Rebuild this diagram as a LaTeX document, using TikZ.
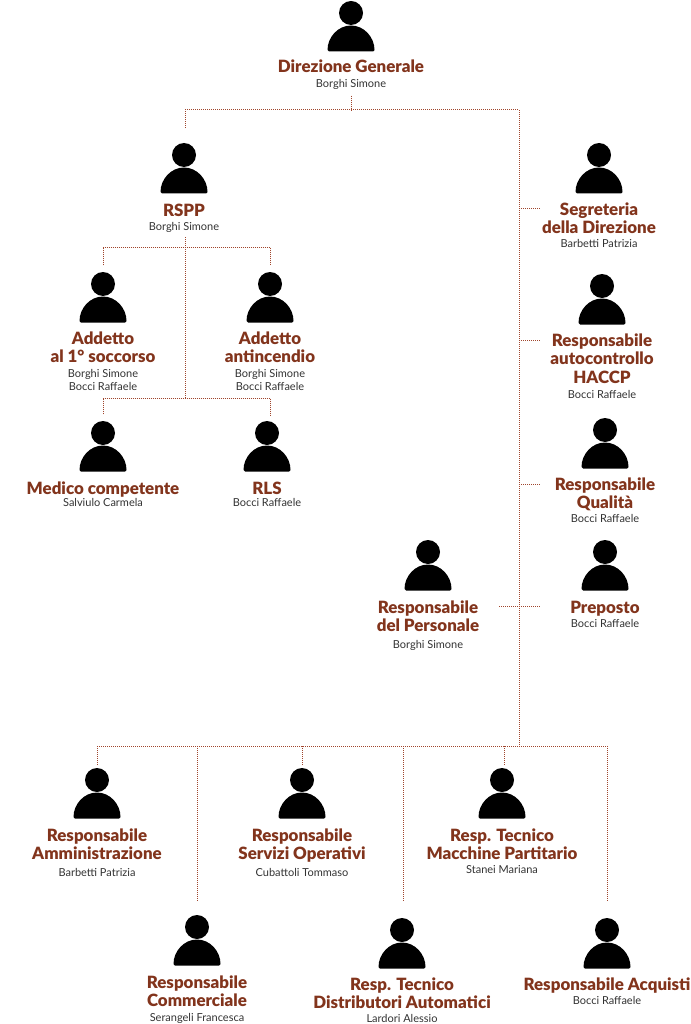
\documentclass[tikz,border=0pt]{standalone}
\usepackage{fontspec}
\setmainfont{Lato}
\newfontfamily\ruolofont{Lato Black}
\usepackage{xcolor}
\usetikzlibrary{positioning,calc}
\definecolor{ruolo}{RGB}{130,52,28}
\definecolor{filo}{RGB}{160,70,45}
\definecolor{nome}{RGB}{50,50,50}
\tikzset{
    persona/.style={minimum width=47pt, minimum height=51pt, inner sep=0pt, path picture={
        \fill[black] ($(path picture bounding box.north)+(0,-12.5pt)$) circle (12pt);
        \fill[black, rounded corners=1.5pt] (path picture bounding box.south west) arc[start angle=180, end angle=0, x radius=23.5pt, y radius=26pt] -- cycle;
    }},
    ruolo/.style={inner sep=0pt, align=center, text=ruolo, font=\fontsize{16.9}{18.7}\selectfont\ruolofont, execute at begin node=\strut, execute at end node=\strut},
    nome/.style={inner sep=0pt, align=center, text=nome, font=\fontsize{11}{13}\selectfont, execute at begin node=\strut, execute at end node=\strut},
    filo/.style={draw=filo, line width=1pt, dash pattern=on 1pt off 1pt}
}
\begin{document}
\begin{tikzpicture}[x=1pt, y=-1pt]
    \useasboundingbox (0,0) rectangle (690,1024);

    \node[persona] (dir) at (351,26) {};
    \node[ruolo, below=7.5pt of dir] (dirR) {Direzione Generale};
    \node[nome, below=0pt of dirR] (dirN) {Borghi Simone};

    \node[persona] (rspp) at (184,168) {};
    \node[ruolo, below=9.5pt of rspp] (rsppR) {RSPP};
    \node[nome, below=-1.5pt of rsppR] (rsppN) {Borghi Simone};

    \node[persona] (segr) at (599,168) {};
    \node[ruolo, below=8.5pt of segr] (segrR) {Segreteria\\della Direzione};
    \node[nome, below=-1pt of segrR] (segrN) {Barbetti Patrizia};

    \node[persona] (socc) at (103,297) {};
    \node[ruolo, below=8.5pt of socc] (soccR) {Addetto\\al 1° soccorso};
    \node[nome, below=1pt of soccR] (soccN) {Borghi Simone\\Bocci Raffaele};

    \node[persona] (anti) at (270,297) {};
    \node[ruolo, below=8.5pt of anti] (antiR) {Addetto\\antincendio};
    \node[nome, below=1pt of antiR] (antiN) {Borghi Simone\\Bocci Raffaele};

    \node[persona] (med) at (103,446) {};
    \node[ruolo, below=9.5pt of med] (medR) {Medico competente};
    \node[nome, below=-3.5pt of medR] (medN) {Salviulo Carmela};

    \node[persona] (rls) at (267,446) {};
    \node[ruolo, below=9.5pt of rls] (rlsR) {RLS};
    \node[nome, below=-3.5pt of rlsR] (rlsN) {Bocci Raffaele};

    \node[persona] (hacc) at (602,299) {};
    \node[ruolo, below=8.5pt of hacc] (haccR) {Responsabile\\autocontrollo\\HACCP};
    \node[nome, below=0pt of haccR] (haccN) {Bocci Raffaele};

    \node[persona] (qual) at (605,443) {};
    \node[ruolo, below=8.5pt of qual] (qualR) {Responsabile\\Qualità};
    \node[nome, below=-1pt of qualR] (qualN) {Bocci Raffaele};

    \node[persona] (prep) at (605,565) {};
    \node[ruolo, below=9.5pt of prep] (prepR) {Preposto};
    \node[nome, below=-1pt of prepR] (prepN) {Bocci Raffaele};

    \node[persona] (pers) at (428,565) {};
    \node[ruolo, below=9.5pt of pers] (persR) {Responsabile\\del Personale};
    \node[nome, below=1.5pt of persR] (persN) {Borghi Simone};

    \node[persona] (amm) at (97,793) {};
    \node[ruolo, below=9.5pt of amm] (ammR) {Responsabile\\Amministrazione};
    \node[nome, below=1.5pt of ammR] (ammN) {Barbetti Patrizia};

    \node[persona] (serv) at (302,793) {};
    \node[ruolo, below=9.5pt of serv] (servR) {Responsabile\\Servizi Operativi};
    \node[nome, below=1.5pt of servR] (servN) {Cubattoli Tommaso};

    \node[persona] (macc) at (502,793) {};
    \node[ruolo, below=9.5pt of macc] (maccR) {Resp. Tecnico\\Macchine Partitario};
    \node[nome, below=-1pt of maccR] (maccN) {Stanei Mariana};

    \node[persona] (comm) at (197,940) {};
    \node[ruolo, below=9.5pt of comm] (commR) {Responsabile\\Commerciale};
    \node[nome, below=0pt of commR] (commN) {Serangeli Francesca};

    \node[persona] (dist) at (402,943) {};
    \node[ruolo, below=8.5pt of dist] (distR) {Resp. Tecnico\\Distributori Automatici};
    \node[nome, below=-1pt of distR] (distN) {Lardori Alessio};

    \node[persona] (acq) at (607,943) {};
    \node[ruolo, below=8.5pt of acq] (acqR) {Responsabile Acquisti};
    \node[nome, below=-1pt of acqR] (acqN) {Bocci Raffaele};

    % dorsale e diramazioni
    \coordinate (dorsA) at (351,110);
    \coordinate (dorsB) at (519,746);
    \coordinate (rsppA) at (185,247);
    \coordinate (rsppB) at (185,398);
    \draw[filo] (dir.south) ++(0,44) -- (dorsA);
    \draw[filo] (185,128) -- (185,110) -- (519,110) -- (dorsB);
    \draw[filo] (185,237) -- (rsppB);
    \draw[filo] (socc.north) ++(0,-6) -- (socc.north |- rsppA) -- (anti.north |- rsppA) -- ++(0,17);
    \draw[filo] (med.north) ++(0,-6) -- (med.north |- rsppB) -- (270,398) -- ++(0,18);

    \draw[filo] (519,209) -- ++(21,0);
    \draw[filo] (519,340) -- ++(21,0);
    \draw[filo] (519,484) -- ++(21,0);
    \draw[filo] (499,606) -- (540,606);

    \draw[filo] (amm.north |- dorsB) -- (acq.north |- dorsB);
    \draw[filo] (amm.north |- dorsB) -- ++(0,20);
    \draw[filo] (serv.north |- dorsB) -- ++(0,20);
    \draw[filo] (504,746) -- ++(0,20);
    \draw[filo] (comm.north |- dorsB) -- ++(0,156);
    \draw[filo] (403,746) -- ++(0,156);
    \draw[filo] (acq.north |- dorsB) -- ++(0,156);
\end{tikzpicture}
\end{document}
